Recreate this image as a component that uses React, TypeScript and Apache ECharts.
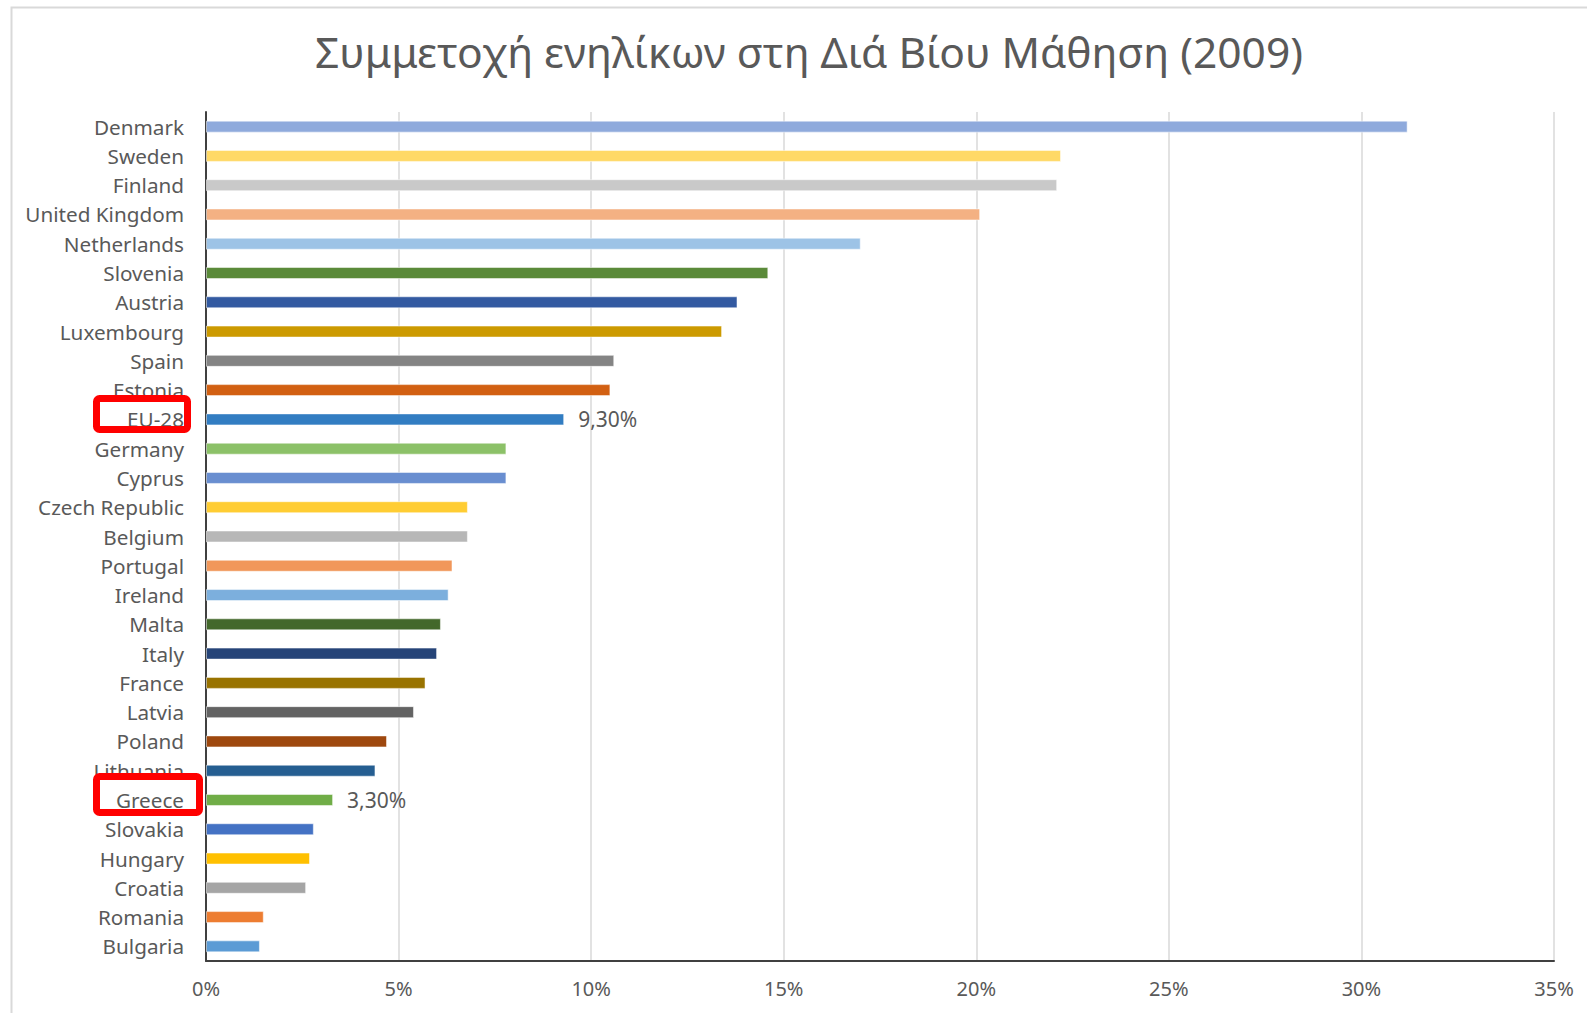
import React, { useEffect, useRef } from "react";
import * as echarts from "echarts";

const titleText = "Συμμετοχή ενηλίκων στη Διά Βίου Μάθηση (2009)";

const countries = [
  "Denmark", "Sweden", "Finland", "United Kingdom", "Netherlands", "Slovenia",
  "Austria", "Luxembourg", "Spain", "Estonia", "EU-28", "Germany", "Cyprus",
  "Czech Republic", "Belgium", "Portugal", "Ireland", "Malta", "Italy", "France",
  "Latvia", "Poland", "Lithuania", "Greece", "Slovakia", "Hungary", "Croatia",
  "Romania", "Bulgaria",
];

const participation = [
  31.2, 22.2, 22.1, 20.1, 17.0, 14.6, 13.8, 13.4, 10.6, 10.5, 9.3, 7.8, 7.8,
  6.8, 6.8, 6.4, 6.3, 6.1, 6.0, 5.7, 5.4, 4.7, 4.4, 3.3, 2.8, 2.7, 2.6, 1.5, 1.4,
];

const barColors = [
  "#8FAADC", "#FFD966", "#C9C9C9", "#F4B183", "#9DC3E6", "#5A8A39",
  "#335AA1", "#CC9A00", "#848484", "#D26012", "#327DC2", "#8CC168", "#698ED0",
  "#FFCD33", "#B7B7B7", "#F1975A", "#7CAFDD", "#43682B", "#264478", "#997300",
  "#636363", "#9E480E", "#255E91", "#70AD47", "#4472C4", "#FFC000", "#A5A5A5",
  "#ED7D31", "#5B9BD5",
];

const labelledCountries = ["EU-28", "Greece"];

const xTicks = [0, 5, 10, 15, 20, 25, 30, 35];

const FONT = "'Noto Sans', sans-serif";
const TEXT = "#595959";

export default function App() {
  const ref = useRef<HTMLDivElement>(null);

  useEffect(() => {
    if (!ref.current) return;
    const chart = echarts.init(ref.current, undefined, { renderer: "svg" });

    const data = participation.map((v, i) => ({
      value: v,
      itemStyle: { color: barColors[i] },
      label: {
        show: labelledCountries.includes(countries[i]),
        position: "right" as const,
        distance: 14,
        color: TEXT,
        fontFamily: FONT,
        fontSize: 21,
        formatter: () => v.toFixed(2).replace(".", ",") + "%",
      },
    }));

    chart.setOption({
      animation: false,
      backgroundColor: "#ffffff",
      title: {
        text: titleText,
        left: 310,
        top: 25,
        textStyle: {
          fontFamily: FONT,
          fontSize: 42.5,
          fontWeight: "normal",
          color: TEXT,
        },
      },
      grid: { left: 206, right: 33, top: 112, bottom: 52, containLabel: false },
      xAxis: {
        type: "value",
        min: xTicks[0],
        max: xTicks[xTicks.length - 1],
        interval: 5,
        axisLine: { show: true, onZero: false, lineStyle: { color: "#404040", width: 2 } },
        axisTick: { show: false },
        splitLine: { show: true, lineStyle: { color: "#D9D9D9", width: 1.5 } },
        axisLabel: {
          color: TEXT,
          fontFamily: FONT,
          fontSize: 20,
          margin: 17,
          formatter: (v: number) => v + "%",
        },
      },
      yAxis: {
        type: "category",
        inverse: true,
        data: countries,
        axisLine: { show: true, lineStyle: { color: "#404040", width: 2 } },
        axisTick: { show: false },
        axisLabel: {
          color: TEXT,
          fontFamily: FONT,
          fontSize: 20.7,
          margin: 22,
          interval: 0,
        },
      },
      series: [
        {
          type: "bar",
          data,
          barWidth: 12,
          itemStyle: { borderColor: "rgba(255,255,255,0.5)", borderWidth: 1 },
        },
      ],
      graphic: [
        {
          type: "rect",
          left: 9,
          top: 5,
          shape: { width: 1700, height: 1200 },
          style: { fill: "none", stroke: "#D9D9D9", lineWidth: 2 },
          z: -10,
          silent: true,
        },
        {
          type: "rect",
          shape: { x: 96.5, y: 398.5, width: 91, height: 31, r: 3 },
          style: { fill: "none", stroke: "#FF0000", lineWidth: 7 },
          z: 100,
        },
        {
          type: "rect",
          shape: { x: 96.5, y: 776.5, width: 103, height: 36, r: 3 },
          style: { fill: "none", stroke: "#FF0000", lineWidth: 7 },
          z: 100,
        },
      ],
    });

    return () => chart.dispose();
  }, []);

  return (
    <div
      ref={ref}
      style={{ position: "fixed", left: 0, top: 0, width: 1587, height: 1013, background: "#fff" }}
    />
  );
}
